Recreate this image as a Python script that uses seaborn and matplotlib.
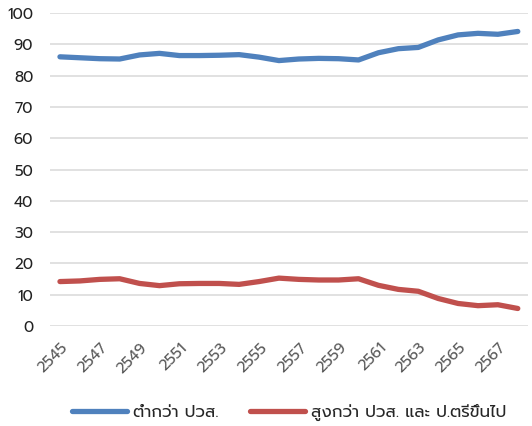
import matplotlib
matplotlib.use("Agg")
import matplotlib.pyplot as plt
import seaborn as sns
import pandas as pd

years = [str(y) for y in range(2545, 2569)]
below_diploma = [86.0, 85.7, 85.4, 85.3, 86.6, 87.1, 86.4, 86.4, 86.5, 86.7, 85.9, 84.8,
                 85.3, 85.5, 85.4, 85.0, 87.3, 88.6, 89.0, 91.4, 93.0, 93.5, 93.2, 94.1]
above_diploma = [14.2, 14.4, 14.9, 15.1, 13.6, 12.9, 13.5, 13.6, 13.6, 13.3, 14.2, 15.3,
                 14.9, 14.7, 14.7, 15.1, 13.0, 11.7, 11.1, 8.8, 7.2, 6.5, 6.8, 5.6]
series_names = ["ต่ำกว่า ปวส.", "สูงกว่า ปวส. และ ป.ตรีขึ้นไป"]

sns.set_style("white")
plt.rcParams["font.family"] = ["Prompt", "Noto Sans Thai", "DejaVu Sans"]

df = pd.DataFrame({
    "year": years * 2,
    "value": below_diploma + above_diploma,
    "group": [series_names[0]] * len(years) + [series_names[1]] * len(years),
})

fig, ax = plt.subplots(figsize=(5.32, 4.26), dpi=100)
fig.subplots_adjust(left=0.094, right=0.992, top=0.9695, bottom=0.2347)

sns.lineplot(data=df, x="year", y="value", hue="group", hue_order=series_names,
             palette=["#4f81bd", "#c0504d"], linewidth=3.8, ax=ax,
             solid_capstyle="round")

ax.set_ylim(0, 100)
ax.set_xlim(-0.5, len(years) - 0.5)
ax.set_yticks(range(0, 101, 10))
ax.yaxis.grid(True, color="#d9d9d9", linewidth=1.1)
ax.set_axisbelow(True)
for s in ax.spines.values():
    s.set_visible(False)
ax.tick_params(axis="y", length=0, labelsize=11, labelcolor="#222222", pad=12)
ax.tick_params(axis="x", length=0, labelsize=11, labelcolor="#595959", pad=10)
ax.set_xticks(range(0, len(years), 2))
ax.set_xticklabels(years[::2], rotation=45, ha="right", rotation_mode="anchor")
ax.set_xlabel("")
ax.set_ylabel("")

leg = ax.legend(loc="center", bbox_to_anchor=(0.5, -0.277), ncol=2, frameon=False,
                fontsize=12, handlelength=3.3, handletextpad=0.35, columnspacing=1.9)
for h in leg.get_lines():
    h.set_linewidth(3.8)
    h.set_solid_capstyle("round")

fig.savefig("out.png", dpi=100)
